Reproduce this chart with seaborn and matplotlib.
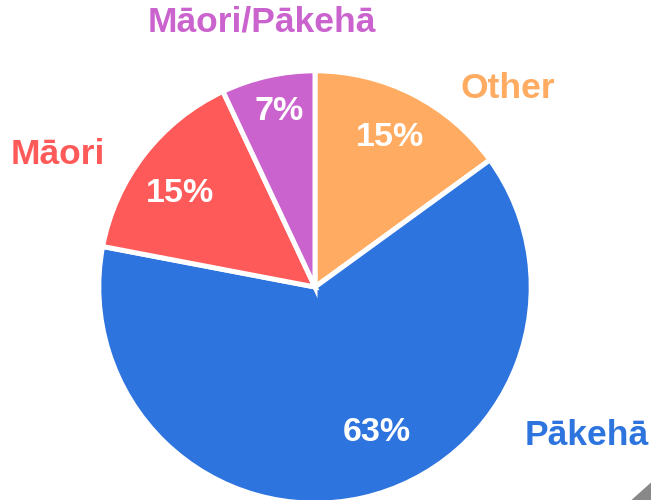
import matplotlib
matplotlib.use('Agg')
import matplotlib.pyplot as plt
import seaborn as sns
from matplotlib.patches import Polygon

# =============================================================================
# Data
# =============================================================================

groups = ['Other', 'Pākehā', 'Māori', 'Māori/Pākehā']
shares = [15, 63, 15, 7]
colors = ['#FFAB61', '#2D74DE', '#FF5A5A', '#CB63CF']

# label placement (pie units, radius = 1)
label_pos = [(0.906, 0.934), (1.277, -0.695), (-1.207, 0.620), (-0.249, 1.244)]
pct_pos = [(0.352, 0.704), (0.291, -0.681), (-0.634, 0.441), (-0.169, 0.826)]

# =============================================================================
# Plot
# =============================================================================

sns.set_style('white')
plt.rcParams['font.family'] = ['Liberation Sans', 'DejaVu Sans']

fig = plt.figure(figsize=(6.51, 5.0), dpi=100)
ax = fig.add_axes([0, 0, 1, 1])

wedges, texts, autotexts = ax.pie(
    shares, labels=groups, colors=colors, startangle=90, counterclock=False,
    autopct='%d%%', radius=1.015,
    wedgeprops=dict(edgecolor='white', linewidth=3.6),
    textprops=dict(fontsize=25.5, fontweight='bold'))

for t, c, p in zip(texts, colors, label_pos):
    t.set_color(c)
    t.set_position(p)
    t.set_ha('center')
    t.set_va('center')

for t, p in zip(autotexts, pct_pos):
    t.set_color('white')
    t.set_fontsize(24.5)
    t.set_position(p)

# map pie units onto pixels: centre (315, 287), radius 213 px
r = 213.0
ax.set_aspect('auto')
ax.set_xlim(-315 / r, (651 - 315) / r)
ax.set_ylim(-(500 - 287) / r, 287 / r)
ax.axis('off')

# small grey corner fold
fig.patches.append(Polygon([[1.0, 0.0], [1.0, 0.035], [0.97, 0.0]], closed=True,
                           transform=fig.transFigure, facecolor='#888888',
                           edgecolor='none'))

fig.savefig('out.png', dpi=100)
